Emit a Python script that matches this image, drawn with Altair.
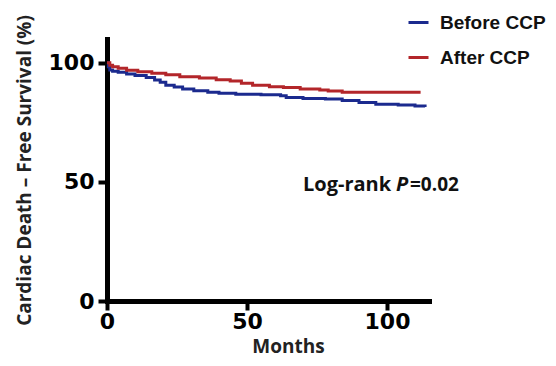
import altair as alt
import pandas as pd

# Kaplan-Meier step points
before_t = [0, 0.5, 1, 2, 4, 7, 10, 14, 17, 19, 21, 24, 27, 31, 36, 40, 46, 55, 62, 64, 70, 78, 84, 90, 96, 104, 110, 113.6]
before_s = [100, 98.3, 97.0, 96.5, 96.0, 95.3, 94.7, 93.8, 92.8, 91.8, 90.6, 89.8, 89.0, 88.3, 87.6, 87.2, 86.8, 86.6, 86.2, 85.4, 85.0, 84.8, 84.2, 83.3, 82.6, 82.3, 81.9, 81.5]
after_t = [0, 1, 2, 4, 7, 11, 16, 21, 26, 33, 39, 44, 48, 52, 58, 63, 69, 76, 79, 84, 112]
after_s = [100, 99.0, 98.3, 97.7, 96.9, 96.2, 95.6, 95.0, 94.2, 93.6, 92.9, 92.4, 91.4, 90.6, 90.0, 89.6, 89.0, 88.6, 88.2, 87.6, 87.6]

groups = ["Before CCP", "After CCP"]
colors = ["#1b2a8e", "#b3262a"]

x_ticks = [0, 50, 100]
y_ticks = [0, 50, 100]

df = pd.concat([
    pd.DataFrame({"t": before_t, "s": before_s, "g": groups[0]}),
    pd.DataFrame({"t": after_t, "s": after_s, "g": groups[1]}),
])

W, H = 322, 262

lines = alt.Chart(df).mark_line(interpolate="step-after", strokeWidth=3).encode(
    x=alt.X("t:Q", scale=alt.Scale(domain=[0, 115], nice=False, zero=True),
            axis=alt.Axis(values=x_ticks, title="Months", titleX=181, titleY=51,
                          titleBaseline="alphabetic", titleAlign="center",
                          labelFlush=False, labelPadding=1)),
    y=alt.Y("s:Q", scale=alt.Scale(domain=[0, 110], nice=False),
            axis=alt.Axis(values=y_ticks, title="Cardiac Death \u2013 Free Survival (%)",
                          titleX=-83, titleY=H / 2, titleBaseline="middle", titleAlign="center",
                          titleAngle=-90, labelFlush=False, labelPadding=4)),
    color=alt.Color("g:N", scale=alt.Scale(domain=groups, range=colors),
                    legend=alt.Legend(title=None, orient="none", legendX=300, legendY=-28,
                                      symbolType="stroke", symbolSize=400, symbolStrokeWidth=3,
                                      labelFont="Liberation Sans", labelFontWeight="bold",
                                      labelFontSize=19, labelColor="#111", labelOffset=10,
                                      rowPadding=13, padding=0)),
)

ann_font = "Open Sans"
t1 = alt.Chart().mark_text(text="Log-rank", font=ann_font, fontWeight="bold", fontSize=20,
                           align="left", baseline="alphabetic", color="#111").encode(
    x=alt.value(303 - 107), y=alt.value(191 - 39))
t2 = alt.Chart().mark_text(text="P", font=ann_font, fontWeight="bold", fontStyle="italic", fontSize=20,
                           align="left", baseline="alphabetic", color="#111").encode(
    x=alt.value(396 - 107), y=alt.value(191 - 39))
t3 = alt.Chart().mark_text(text="=0.02", font=ann_font, fontWeight="bold", fontSize=19,
                           align="left", baseline="alphabetic", color="#111").encode(
    x=alt.value(410 - 107), y=alt.value(191 - 39))

chart = alt.layer(lines, t1, t2, t3).properties(
    width=W, height=H,
    autosize=alt.AutoSizeParams(type="none"),
    padding={"left": 99, "top": 31, "right": 118, "bottom": 56},
).configure_view(stroke=None).configure_axis(
    grid=False,
    domainColor="black", domainWidth=5, domainCap="square",
    tickColor="black", tickWidth=4, tickSize=9,
    labelFont="DejaVu Sans", labelFontWeight="bold", labelFontSize=22, labelColor="black",
    titleFont="Open Sans", titleFontWeight="bold", titleFontSize=19, titleColor="#222",
)

chart.save("out.html", embed_options={"renderer": "svg", "actions": False})
